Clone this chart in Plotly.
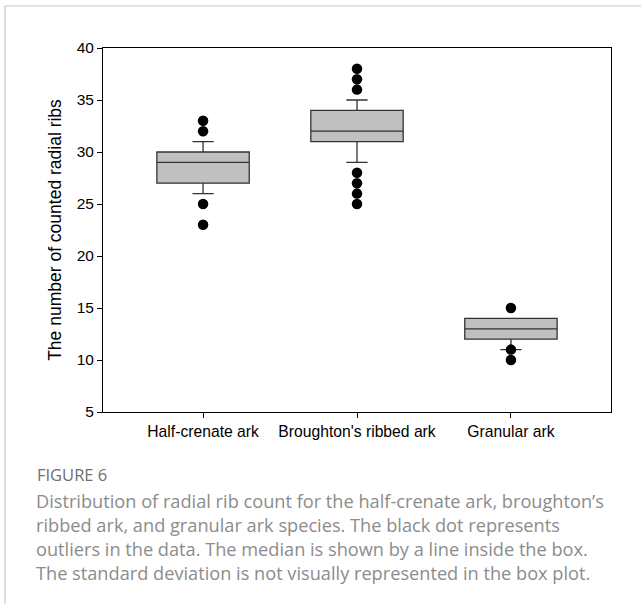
import plotly.graph_objects as go

categories = ["Half-crenate ark", "Broughton's ribbed ark", "Granular ark"]
q1 = [27, 31, 12]
median = [29, 32, 13]
q3 = [30, 34, 14]
lower_whisker = [26, 29, 11]
upper_whisker = [31, 35, 14]
outliers = {
    "Half-crenate ark": [33, 32, 25, 23],
    "Broughton's ribbed ark": [38, 37, 36, 28, 27, 26, 25],
    "Granular ark": [15, 11, 10],
}
y_ticks = [5, 10, 15, 20, 25, 30, 35, 40]

caption_title = "FIGURE 6"
caption_lines = [
    "Distribution of radial rib count for the half-crenate ark, broughton\u2019s",
    "ribbed ark, and granular ark species. The black dot represents",
    "outliers in the data. The median is shown by a line inside the box.",
    "The standard deviation is not visually represented in the box plot.",
]

W, H = 641, 604
L, R, T, B = 103, 30, 48, 192
pw, ph = W - L - R, H - T - B


def px_x(x):
    return (x - L) / pw


def px_y(y):
    return (H - B - y) / ph


AX_FONT = "Arial, Liberation Sans, sans-serif"

fig = go.Figure()
fig.add_trace(go.Box(
    x=categories,
    q1=q1, median=median, q3=q3,
    lowerfence=lower_whisker, upperfence=upper_whisker,
    boxpoints=False,
    fillcolor="#c0c0c0",
    line=dict(color="#333333", width=1.3),
    width=0.6,
    whiskerwidth=0.23,
    showlegend=False,
    hoverinfo="skip",
))

ox, oy = [], []
for c in categories:
    for v in outliers[c]:
        ox.append(c)
        oy.append(v)
fig.add_trace(go.Scatter(
    x=ox, y=oy, mode="markers",
    marker=dict(color="black", size=10.5, line=dict(width=0)),
    showlegend=False, hoverinfo="skip",
))

fig.update_layout(
    width=W, height=H,
    margin=dict(l=L, r=R, t=T, b=B),
    paper_bgcolor="white", plot_bgcolor="white",
    font=dict(family=AX_FONT, color="black", size=15.5),
    xaxis=dict(
        type="category", categoryorder="array", categoryarray=categories,
        range=[-0.65, 2.65], showgrid=False, zeroline=False,
        showline=True, linecolor="black", linewidth=1, mirror=True,
        ticks="outside", ticklen=5, tickcolor="black", tickwidth=1,
        tickfont=dict(size=15.7, family=AX_FONT),
    ),
    yaxis=dict(
        range=[5, 40], tickvals=y_ticks, showgrid=False, zeroline=False,
        showline=True, linecolor="black", linewidth=1, mirror=True,
        ticks="outside", ticklen=5, tickcolor="black", tickwidth=1,
        tickfont=dict(size=15.5, family=AX_FONT),
        title=dict(text="The number of counted radial ribs", standoff=10,
                   font=dict(size=17.5, family=AX_FONT)),
    ),
    shapes=[dict(
        type="rect", xref="paper", yref="paper",
        x0=px_x(5), x1=px_x(660), y0=px_y(640), y1=px_y(6),
        line=dict(color="#c8c8c8", width=1.2), fillcolor="rgba(0,0,0,0)",
        layer="below",
    )],
)

annotations = [dict(
    text=caption_title, xref="paper", yref="paper",
    x=px_x(35), y=px_y(474), xanchor="left", yanchor="middle",
    showarrow=False,
    font=dict(family="Open Sans, Noto Sans, sans-serif", size=16.5, color="#707070"),
)]
for i, line in enumerate(caption_lines):
    annotations.append(dict(
        text=line, xref="paper", yref="paper",
        x=px_x(34), y=px_y(501 + 24 * i), xanchor="left", yanchor="middle",
        showarrow=False,
        font=dict(family="Open Sans, Noto Sans, sans-serif", size=18.2, color="#8c8c8c"),
    ))
fig.update_layout(annotations=annotations)

fig.write_html("out.html", config={"displayModeBar": False},
               post_script="document.body.style.margin='0';")
